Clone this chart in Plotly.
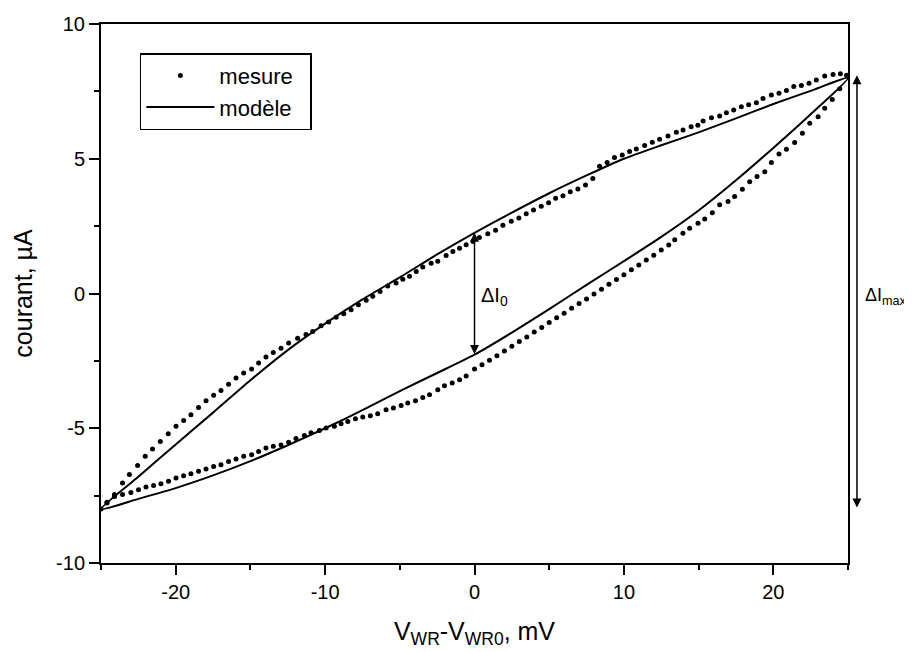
import plotly.graph_objects as go

# ---------------- data ----------------
# measured points ("mesure"), upper branch, left to right
mes_haut_x = [-25.0, -24.6, -24.1, -23.56, -23.1, -22.55, -22.04, -21.55, -21.03, -20.5,
              -19.98, -19.47, -18.98, -18.47, -17.97, -17.46, -16.97, -16.46, -15.96, -15.45,
              -14.92, -14.45, -13.96, -13.47, -12.95, -12.44, -11.84, -11.28, -10.83, -10.27,
              -9.76, -9.26, -8.75, -8.26, -7.77, -7.25, -6.81, -6.32, -5.81, -5.25,
              -4.8, -4.35, -3.9, -3.46, -2.9, -2.46, -1.9, -1.45, -1.0, -0.56,
              -0.1, 0.33, 0.89, 1.41, 1.9, 2.46, 2.97, 3.46, 3.95, 4.47,
              4.96, 5.43, 5.92, 6.41, 6.92, 7.43, 7.92, 8.37, 8.88, 9.37,
              9.89, 10.38, 10.83, 11.39, 11.9, 12.39, 12.95, 13.51, 13.96, 14.5,
              14.95, 15.3, 15.86, 16.41, 16.86, 17.35, 17.86, 18.35, 18.87, 19.31,
              19.87, 20.38, 20.88, 21.37, 21.88, 22.39, 22.88, 23.44, 24.0, 24.49,
              24.9]
mes_haut_y = [-8.0, -7.75, -7.46, -7.03, -6.72, -6.38, -6.04, -5.77, -5.49, -5.2,
              -4.93, -4.71, -4.5, -4.23, -3.98, -3.78, -3.6, -3.37, -3.14, -2.95,
              -2.8, -2.58, -2.36, -2.19, -2.03, -1.84, -1.66, -1.52, -1.41, -1.2,
              -1.06, -0.88, -0.75, -0.6, -0.42, -0.25, -0.1, 0.07, 0.28, 0.39,
              0.53, 0.64, 0.82, 0.98, 1.12, 1.2, 1.41, 1.56, 1.68, 1.81,
              1.93, 2.08, 2.22, 2.35, 2.53, 2.68, 2.8, 2.96, 3.1, 3.24,
              3.37, 3.53, 3.63, 3.78, 3.88, 4.03, 4.27, 4.72, 4.86, 5.05,
              5.14, 5.27, 5.36, 5.49, 5.61, 5.72, 5.84, 5.98, 6.07, 6.19,
              6.24, 6.4, 6.52, 6.59, 6.71, 6.81, 6.93, 7.0, 7.08, 7.24,
              7.37, 7.43, 7.53, 7.68, 7.72, 7.8, 7.92, 8.07, 8.13, 8.15,
              8.1]

# measured points, lower branch, left to right
mes_bas_x = [-24.6, -24.1, -23.56, -23.0, -22.49, -21.99, -21.48, -20.99, -20.48, -19.98,
             -19.47, -18.98, -18.47, -17.97, -17.46, -16.97, -16.46, -15.96, -15.45, -14.92,
             -14.45, -13.96, -13.47, -12.95, -12.44, -11.95, -11.39, -10.94, -10.38, -9.93,
             -9.38, -8.93, -8.48, -7.97, -7.48, -6.97, -6.48, -5.92, -5.43, -4.91,
             -4.47, -3.95, -3.46, -3.01, -2.46, -2.01, -1.49, -1.0, -0.56, 0.0,
             0.5, 1.0, 1.5, 2.0, 2.5, 3.0, 3.5, 4.0, 4.5, 5.0,
             5.5, 6.0, 6.5, 7.0, 7.5, 8.0, 8.5, 9.0, 9.5, 10.0,
             10.5, 11.0, 11.5, 12.0, 12.5, 13.0, 13.4, 13.95, 14.4, 14.96,
             15.41, 15.92, 16.41, 16.97, 17.41, 17.93, 18.42, 18.91, 19.43, 19.87,
             20.38, 20.88, 21.43, 21.95, 22.44, 23.0, 23.44, 23.95, 24.45]
mes_bas_y = [-7.77, -7.53, -7.46, -7.38, -7.28, -7.18, -7.12, -7.06, -6.97, -6.85,
             -6.76, -6.69, -6.6, -6.51, -6.42, -6.35, -6.23, -6.14, -6.04, -5.98,
             -5.86, -5.73, -5.67, -5.62, -5.52, -5.38, -5.27, -5.17, -5.08, -4.99,
             -4.93, -4.83, -4.75, -4.65, -4.58, -4.54, -4.46, -4.31, -4.25, -4.16,
             -4.06, -3.98, -3.86, -3.76, -3.57, -3.42, -3.32, -3.2, -3.06, -2.8,
             -2.64, -2.48, -2.31, -2.13, -1.96, -1.78, -1.61, -1.43, -1.26, -1.08,
             -0.9, -0.73, -0.55, -0.37, -0.2, -0.02, 0.16, 0.34, 0.52, 0.7,
             0.88, 1.06, 1.24, 1.42, 1.61, 1.8, 1.99, 2.24, 2.42, 2.61,
             2.76, 3.0, 3.29, 3.41, 3.6, 3.87, 4.15, 4.34, 4.52, 4.86,
             5.18, 5.35, 5.6, 5.95, 6.32, 6.56, 6.87, 7.2, 7.6]

# model ("modèle"), sampled every 2.5 mV
mod_x = [-25, -22.5, -20, -17.5, -15, -12.5, -10, -7.5, -5, -2.5, 0,
         2.5, 5, 7.5, 10, 12.5, 15, 17.5, 20, 22.5, 25]
mod_haut_y = [-8.0, -6.8, -5.6, -4.42, -3.22, -2.1, -1.12, -0.22, 0.6, 1.45, 2.25,
              3.0, 3.72, 4.38, 5.0, 5.5, 5.98, 6.5, 7.03, 7.52, 8.0]
mod_bas_y = [-8.0, -7.62, -7.22, -6.75, -6.22, -5.63, -5.0, -4.33, -3.62, -2.95, -2.27,
             -1.45, -0.58, 0.32, 1.2, 2.1, 3.08, 4.2, 5.4, 6.65, 8.0]

# tick labels
x_tickvals = [-20, -10, 0, 10, 20]
x_ticktext = ["-20", "-10", "0", "10", "20"]
y_tickvals = [-10, -5, 0, 5, 10]
y_ticktext = ["-10", "-5", "0", "5", "10"]

# annotated quantities
dI0_x = 0.0
dI0_haut, dI0_bas = 2.25, -2.3
dImax_haut, dImax_bas = 8.1, -8.0

x_range = [-25, 25]
y_range = [-10, 10]

# ---------------- figure ----------------
FONT = "Liberation Sans, Arial, Helvetica, sans-serif"

mes_x = mes_haut_x + mes_bas_x[::-1]
mes_y = mes_haut_y + mes_bas_y[::-1]
loop_x = mod_x + mod_x[::-1][1:]
loop_y = mod_haut_y + mod_bas_y[::-1][1:]

fig = go.Figure()
fig.add_trace(go.Scatter(
    x=mes_x, y=mes_y, mode="markers", name="mesure\u00a0\u00a0",
    legendgroup="a",
    marker=dict(color="black", size=5, line=dict(width=0)),
))
fig.add_trace(go.Scatter(
    x=loop_x, y=loop_y, mode="lines", name="modèle",
    legendgroup="b",
    line=dict(color="black", width=2, shape="spline", smoothing=0.6),
))

axis_common = dict(
    showline=True, linecolor="black", linewidth=2, mirror=True,
    ticks="outside", ticklen=10, tickwidth=2, tickcolor="black",
    showgrid=False, zeroline=False, automargin=False,
    tickfont=dict(family=FONT, size=20, color="black"),
)

fig.update_xaxes(
    range=x_range, tickmode="array", tickvals=x_tickvals, ticktext=x_ticktext,
    minor=dict(ticks="outside", ticklen=5, tickwidth=2, tickcolor="black",
               tickmode="linear", dtick=5, tick0=0),
    title=dict(text="V<sub>WR</sub>-V<sub>WR0</sub>, mV",
               font=dict(family=FONT, size=25, color="black"), standoff=20),
    **axis_common,
)
fig.update_yaxes(
    range=y_range, tickmode="array", tickvals=y_tickvals, ticktext=y_ticktext,
    minor=dict(ticks="outside", ticklen=5, tickwidth=2, tickcolor="black",
               tickmode="linear", dtick=2.5, tick0=0),
    title=dict(text="courant, µA",
               font=dict(family=FONT, size=25, color="black"), standoff=16),
    **axis_common,
)

# arrows
fig.add_annotation(
    x=dI0_x, y=dI0_haut, ax=dI0_x, ay=dI0_bas,
    xref="x", yref="y", axref="x", ayref="y",
    text="", showarrow=True, arrowhead=2, arrowside="end+start",
    arrowsize=1.2, arrowwidth=1.5, arrowcolor="black", standoff=0, startstandoff=0,
    font=dict(size=1),
)
fig.add_annotation(
    x=dI0_x + 0.3, y=-0.1, xref="x", yref="y",
    text="ΔI<sub>0</sub>", showarrow=False, xanchor="left", yanchor="middle",
    font=dict(family=FONT, size=20, color="black"),
)
fig.add_annotation(
    x=1.012, y=dImax_haut, ax=0, ay=dImax_bas,
    xref="paper", yref="y", axref="pixel", ayref="y",
    text="", showarrow=True, arrowhead=2, arrowside="end+start",
    arrowsize=1.2, arrowwidth=1.5, arrowcolor="black", standoff=0, startstandoff=0,
    font=dict(size=1),
)
fig.add_annotation(
    x=1.02, y=-0.1, xref="paper", yref="y",
    text="ΔI<sub>max</sub>", showarrow=False, xanchor="left", yanchor="middle",
    font=dict(family=FONT, size=18, color="black"),
)

# the page is drawn with an 8 px body offset, so margins are shifted accordingly
fig.update_layout(
    width=912, height=652,
    margin=dict(l=93, r=72, t=16, b=97),
    paper_bgcolor="white", plot_bgcolor="white",
    font=dict(family=FONT, color="black"),
    showlegend=True,
    legend=dict(
        x=0.052, y=0.946, xanchor="left", yanchor="top",
        bordercolor="black", borderwidth=1.5, bgcolor="white",
        font=dict(family=FONT, size=22, color="black"),
        itemwidth=68, traceorder="grouped", tracegroupgap=0,
    ),
)

fig.write_html("out.html")
